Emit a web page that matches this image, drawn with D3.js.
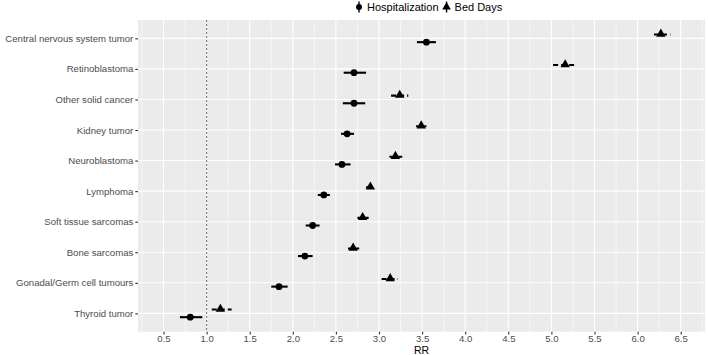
<!DOCTYPE html>
<html>
<head>
<meta charset="utf-8">
<script src="https://cdn.jsdelivr.net/npm/d3@7/dist/d3.min.js"></script>
<style>
  body { margin: 0; background: #fff; }
  svg { display: block; font-family: "Liberation Sans", Arial, sans-serif; }
</style>
</head>
<body>
<div id="chart"></div>
<script>
// categories, top to bottom
const categories = [
  'Central nervous system tumor', 'Retinoblastoma', 'Other solid cancer', 'Kidney tumor',
  'Neuroblastoma', 'Lymphoma', 'Soft tissue sarcomas', 'Bone sarcomas',
  'Gonadal/Germ cell tumours', 'Thyroid tumor'
];

// Hospitalization RR with 95% CI
const hospRR = [3.55, 2.71, 2.71, 2.63, 2.57, 2.36, 2.23, 2.14, 1.84, 0.81];
const hospLo = [3.44, 2.59, 2.58, 2.56, 2.49, 2.29, 2.15, 2.06, 1.75, 0.69];
const hospHi = [3.66, 2.85, 2.84, 2.71, 2.67, 2.43, 2.31, 2.23, 1.94, 0.95];

// Bed Days RR with 95% CI
const bedRR = [6.27, 5.16, 3.24, 3.49, 3.19, 2.90, 2.81, 2.70, 3.13, 1.16];
const bedLo = [6.19, 5.02, 3.14, 3.43, 3.12, 2.85, 2.75, 2.64, 3.03, 1.06];
const bedHi = [6.38, 5.29, 3.34, 3.55, 3.27, 2.94, 2.88, 2.77, 3.22, 1.29];

const xTicks = [0.5, 1.0, 1.5, 2.0, 2.5, 3.0, 3.5, 4.0, 4.5, 5.0, 5.5, 6.0, 6.5];
const refLine = 1.0;

const W = 708, H = 355;
const panel = { left: 138, right: 705, top: 20, bottom: 331.7 };
const axisFont = '9.6px';

const svg = d3.select('#chart').append('svg')
  .attr('width', W).attr('height', H);

const x = d3.scaleLinear().domain([0.204, 6.782]).range([panel.left, panel.right]);
const y = d3.scalePoint().domain(categories).range([panel.top, panel.bottom]).padding(0.6);
const dodge = y.step() * 0.125;

// panel background
svg.append('rect')
  .attr('x', panel.left).attr('y', panel.top)
  .attr('width', panel.right - panel.left).attr('height', panel.bottom - panel.top)
  .attr('fill', '#EBEBEB');

// minor grid (midpoints between major breaks)
const minor = [0.25].concat(xTicks.map(t => t + 0.25));
svg.append('g').selectAll('line').data(minor.filter(m => x(m) < panel.right)).join('line')
  .attr('x1', d => x(d)).attr('x2', d => x(d))
  .attr('y1', panel.top).attr('y2', panel.bottom)
  .attr('stroke', '#fff').attr('stroke-width', 0.55);

// major grid
svg.append('g').selectAll('line').data(xTicks).join('line')
  .attr('x1', d => x(d)).attr('x2', d => x(d))
  .attr('y1', panel.top).attr('y2', panel.bottom)
  .attr('stroke', '#fff').attr('stroke-width', 1.1);
svg.append('g').selectAll('line').data(categories).join('line')
  .attr('x1', panel.left).attr('x2', panel.right)
  .attr('y1', d => y(d)).attr('y2', d => y(d))
  .attr('stroke', '#fff').attr('stroke-width', 1.1);

// reference line at RR = 1
svg.append('line')
  .attr('x1', x(refLine)).attr('x2', x(refLine))
  .attr('y1', panel.top).attr('y2', panel.bottom)
  .attr('stroke', '#777').attr('stroke-width', 1.1)
  .attr('stroke-dasharray', '2,2');

// x axis
const xAxis = svg.append('g')
  .attr('transform', `translate(0,${panel.bottom})`)
  .call(d3.axisBottom(x).tickValues(xTicks).tickFormat(d3.format('.1f')).tickSize(2.7).tickPadding(0.5));
xAxis.select('.domain').remove();
xAxis.selectAll('.tick line').attr('stroke', '#333').attr('stroke-width', 1.1);
xAxis.selectAll('.tick text').attr('fill', '#4D4D4D').attr('font-size', axisFont)
  .attr('font-family', '"Liberation Sans", Arial, sans-serif');

// y axis
const yAxis = svg.append('g')
  .attr('transform', `translate(${panel.left},0)`)
  .call(d3.axisLeft(y).tickSize(2.7).tickPadding(2));
yAxis.select('.domain').remove();
yAxis.selectAll('.tick line').attr('stroke', '#333').attr('stroke-width', 1.1);
yAxis.selectAll('.tick text').attr('fill', '#4D4D4D').attr('font-size', axisFont)
  .attr('font-family', '"Liberation Sans", Arial, sans-serif');

// axis title
svg.append('text')
  .attr('x', (panel.left + panel.right) / 2).attr('y', 354)
  .attr('text-anchor', 'middle').attr('font-size', '10.5px').attr('fill', '#000')
  .text('RR');

// Hospitalization: solid range + circle, dodged down
const hosp = svg.append('g');
categories.forEach((c, i) => {
  const cy = y(c) + dodge;
  hosp.append('line')
    .attr('x1', x(hospLo[i])).attr('x2', x(hospHi[i]))
    .attr('y1', cy).attr('y2', cy)
    .attr('stroke', '#000').attr('stroke-width', 2.1);
  hosp.append('circle')
    .attr('cx', x(hospRR[i])).attr('cy', cy).attr('r', 3.4)
    .attr('fill', '#000');
});

// Bed Days: dashed range + triangle, dodged up
const tri = d3.symbol().type(d3.symbolTriangle).size(38);
const bed = svg.append('g');
categories.forEach((c, i) => {
  const cy = y(c) - dodge;
  bed.append('line')
    .attr('x1', x(bedLo[i])).attr('x2', x(bedHi[i]))
    .attr('y1', cy).attr('y2', cy)
    .attr('stroke', '#000').attr('stroke-width', 2.1)
    .attr('stroke-dasharray', '5,3');
  bed.append('path')
    .attr('d', tri)
    .attr('transform', `translate(${x(bedRR[i])},${cy - 0.5})`)
    .attr('fill', '#000');
});

// legend across the top
const legend = svg.append('g');
const items = [
  { label: 'Hospitalization', shape: 'circle' },
  { label: 'Bed Days', shape: 'triangle' }
];
let cursor = 0;
items.forEach(it => {
  const g = legend.append('g').attr('transform', `translate(${cursor},0)`);
  g.append('line')
    .attr('x1', 4).attr('x2', 4).attr('y1', 1.5).attr('y2', 12.5)
    .attr('stroke', '#000').attr('stroke-width', 1.4);
  if (it.shape === 'circle') {
    g.append('circle').attr('cx', 4).attr('cy', 7).attr('r', 3).attr('fill', '#000');
  } else {
    g.append('path').attr('d', d3.symbol().type(d3.symbolTriangle).size(32))
      .attr('transform', 'translate(4,7)').attr('fill', '#000');
  }
  const t = g.append('text')
    .attr('x', 12).attr('y', 11)
    .attr('font-size', '11px').attr('fill', '#000')
    .text(it.label);
  cursor += 12 + t.node().getComputedTextLength() + 4;
});
legend.attr('transform', 'translate(355,0)');
</script>
</body>
</html>
